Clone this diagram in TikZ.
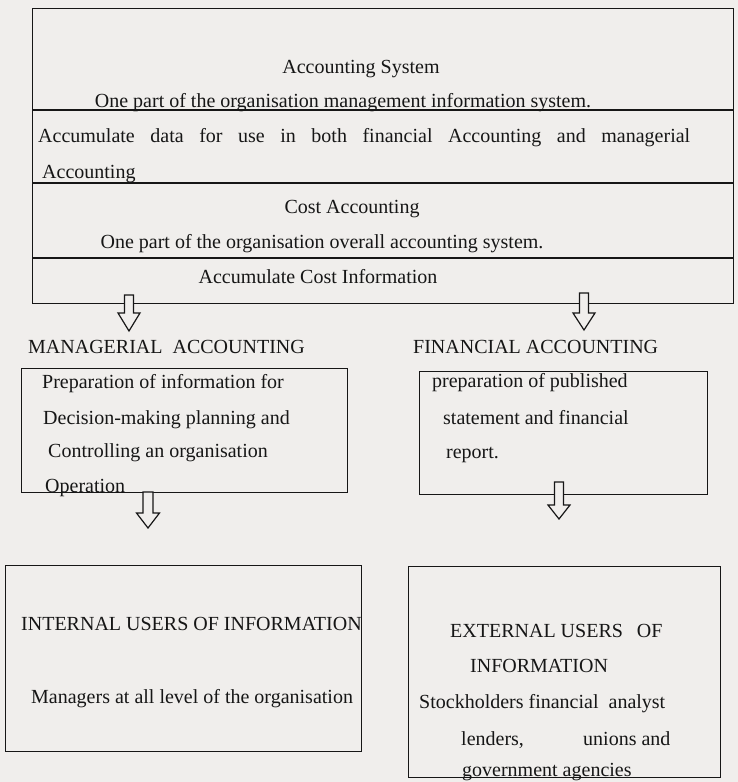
\documentclass[tikz,border=0pt]{standalone}
\usepackage{fontspec}
\setmainfont{Liberation Serif}
\definecolor{bg}{RGB}{240,238,236}
\definecolor{ink}{RGB}{22,22,22}
\tikzset{
  boxframe/.style={draw=ink, line width=1.4pt, inner sep=0pt, anchor=north west},
  divider/.style={draw=ink, line width=1.4pt},
  txt/.style={inner sep=0pt, anchor=base west, text=ink, font=\fontsize{20}{24}\selectfont},
  ctxt/.style={txt, anchor=base},
  arrowbody/.style={draw=ink, fill=bg, line width=1.2pt, line join=miter},
  pics/darrow/.style n args={4}{code={
    \draw[arrowbody] (-#4,0) -- (-#4,#1) -- (-#3,#1) -- (0,#1+#2) -- (#3,#1) -- (#4,#1) -- (#4,0) -- cycle;
  }}
}
\begin{document}
\begin{tikzpicture}[x=1pt,y=-1pt]
\fill[bg] (0,0) rectangle (738,782);
\useasboundingbox (0,0) rectangle (738,782);

% top box with its rows
\node[boxframe, minimum width=701pt, minimum height=295pt] (sys) at (32,8) {};
\draw[divider] (32,110) -- (733,110);
\draw[divider] (32,183) -- (733,183);
\draw[divider] (32,258) -- (733,258);

\node[ctxt] (t1) at (361,73) {Accounting System};
\node[ctxt] (t2) at (343,107) {One part of the organisation management information system.};
\node[txt] (t3) at (38,142) {\makebox[652pt][s]{Accumulate data for use in both financial Accounting and managerial}};
\node[txt] (t4) at (42,178) {Accounting};
\node[ctxt] (t5) at (352,213) {Cost Accounting};
\node[ctxt] (t6) at (322,248) {One part of the organisation overall accounting system.};
\node[ctxt] (t7) at (318,283) {Accumulate Cost Information};

% headings
\node[txt] (ma) at (28,353) {MANAGERIAL\ \ ACCOUNTING};
\node[txt] (fa) at (413,353) {FINANCIAL ACCOUNTING};

% middle boxes
\node[boxframe, minimum width=326pt, minimum height=124pt] (mbox) at (21,368) {};
\node[txt] (m1) at (42,388) {Preparation of information for};
\node[txt] (m2) at (43,424) {Decision-making planning and};
\node[txt] (m3) at (48,457) {Controlling an organisation};
\node[txt] (m4) at (45,492) {Operation};

\node[boxframe, minimum width=288pt, minimum height=123pt] (fbox) at (419,371) {};
\node[txt] (f1) at (432,387) {preparation of published};
\node[txt] (f2) at (443,424) {statement and financial};
\node[txt] (f3) at (446,458) {report.};

% bottom boxes
\node[boxframe, minimum width=356pt, minimum height=186pt] (ibox) at (5,565) {};
\begin{scope}
\clip (5,565) rectangle (361,751);
\node[txt] (i1) at (21,630) {INTERNAL USERS OF INFORMATION};
\end{scope}
\node[txt] (i2) at (31,703) {Managers at all level of the organisation};

\node[boxframe, minimum width=312pt, minimum height=211pt] (ebox) at (408,566) {};
\node[txt] (e1) at (450,637) {EXTERNAL USERS\hspace{14pt}OF};
\node[txt] (e2) at (470,672) {INFORMATION};
\node[txt] (e3) at (419,708) {Stockholders financial\ \ analyst};
\node[txt] (e4) at (461,745) {lenders,};
\node[txt] (e5) at (583,745) {unions and};
\node[txt] (e6) at (462,776) {government agencies};

% block arrows
\pic at (129,295) {darrow={18}{18}{11}{4.5}};
\pic at (584,293) {darrow={20}{17}{11}{4.5}};
\pic at (148,492) {darrow={21}{15}{11.5}{5}};
\pic at (559,482) {darrow={23}{14}{11}{4.5}};
\end{tikzpicture}
\end{document}
